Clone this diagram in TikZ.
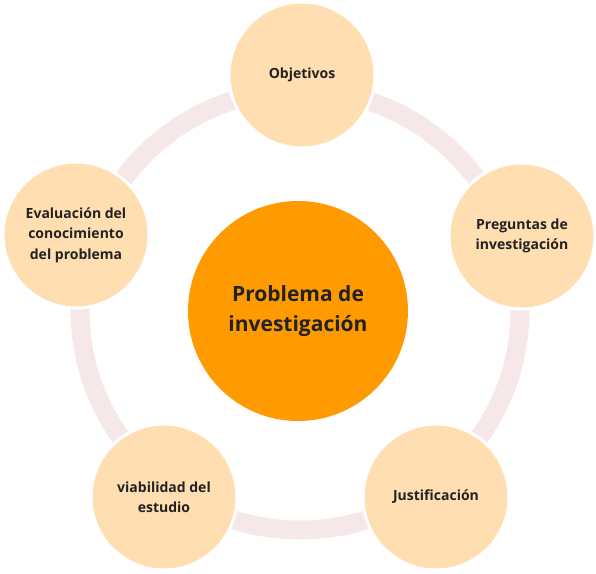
\documentclass[tikz,border=0pt]{standalone}
\usepackage{fontspec}
\setmainfont{Open Sans}
\definecolor{centro}{RGB}{255,154,0}
\definecolor{durazno}{RGB}{255,222,177}
\definecolor{anillo}{RGB}{246,232,232}
\definecolor{texto}{RGB}{34,34,34}

\begin{document}
\begin{tikzpicture}[x=1pt, y=-1pt,
    etapa/.style={circle, fill=durazno, draw=white, line width=3pt, minimum size=146pt,
      inner sep=0pt, align=center, text=texto, font=\bfseries\fontsize{14}{20.5}\selectfont},
    nucleo/.style={circle, fill=centro, minimum size=220pt, inner sep=0pt, align=center,
      text=texto, font=\bfseries\fontsize{21}{30}\selectfont}]
    \useasboundingbox (0,0) rectangle (596,573);
    \draw[color=anillo, line width=19pt] (300,310) circle[radius=220pt];
    \node[nucleo] (problema) at (298,311) {Problema de\\investigación};

    \node[etapa] (objetivos) at (302,75) {Objetivos};
    \node[etapa] (preguntas) at (522,236) {Preguntas de\\investigación};
    \node[etapa] (justificacion) at (436,497) {Justificación};
    \node[etapa] (viabilidad) at (164,497) {viabilidad del\\estudio};
    \node[etapa] (evaluacion) at (76,235) {Evaluación del\\conocimiento\\del problema};
  \end{tikzpicture}
\end{document}
